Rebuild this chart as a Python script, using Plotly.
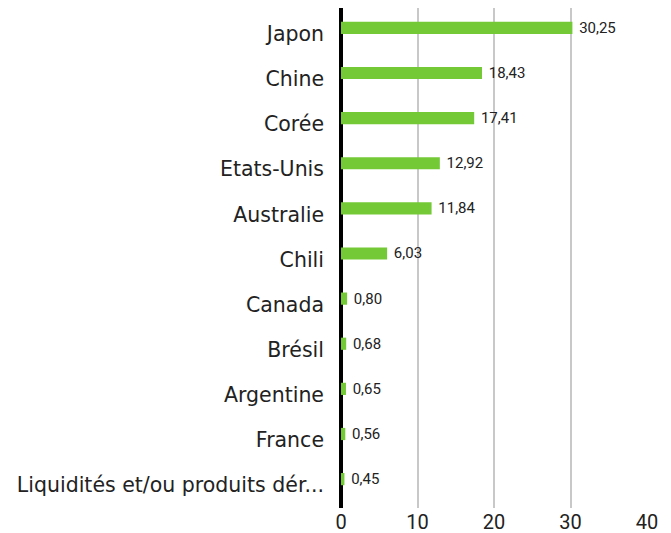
import plotly.graph_objects as go

categories = ["Japon", "Chine", "Corée", "Etats-Unis", "Australie", "Chili",
              "Canada", "Brésil", "Argentine", "France",
              "Liquidités et/ou produits dér..."]
values = [30.25, 18.43, 17.41, 12.92, 11.84, 6.03, 0.80, 0.68, 0.65, 0.56, 0.45]
tick_vals = [0, 10, 20, 30, 40]

labels = [" " + f"{v:.2f}".replace(".", ",") for v in values]

fig = go.Figure(go.Bar(
    x=values, y=categories, orientation="h",
    marker=dict(color="#74c936", line=dict(width=0)),
    text=labels, textposition="outside", cliponaxis=False,
    constraintext="none",
    textfont=dict(size=15, color="#222222", family="Roboto"),
    width=0.27,
))

fig.update_layout(
    width=671, height=533,
    margin=dict(l=341, r=24, t=8, b=25, autoexpand=False),
    paper_bgcolor="white", plot_bgcolor="white",
    showlegend=False,
    font=dict(family="DejaVu Sans", color="#222222"),
    xaxis=dict(range=[0, 40], tickvals=tick_vals, showgrid=True,
               gridcolor="#c8c8c8", gridwidth=2, automargin=False,
               zeroline=True, zerolinecolor="black", zerolinewidth=4,
               tickfont=dict(size=20, color="#222222", family="Roboto"),
               showline=False),
    yaxis=dict(type="category", categoryorder="array", categoryarray=categories,
               range=[10.64, -0.44], showgrid=False, zeroline=False,
               automargin=False, ticks="", ticklabelstandoff=16,
               ticklabelshift=-6,
               tickfont=dict(size=20.5, color="#222222")),
)

fig.write_html("out.html", config={"displayModeBar": False},
               post_script="document.body.style.margin='0';")
